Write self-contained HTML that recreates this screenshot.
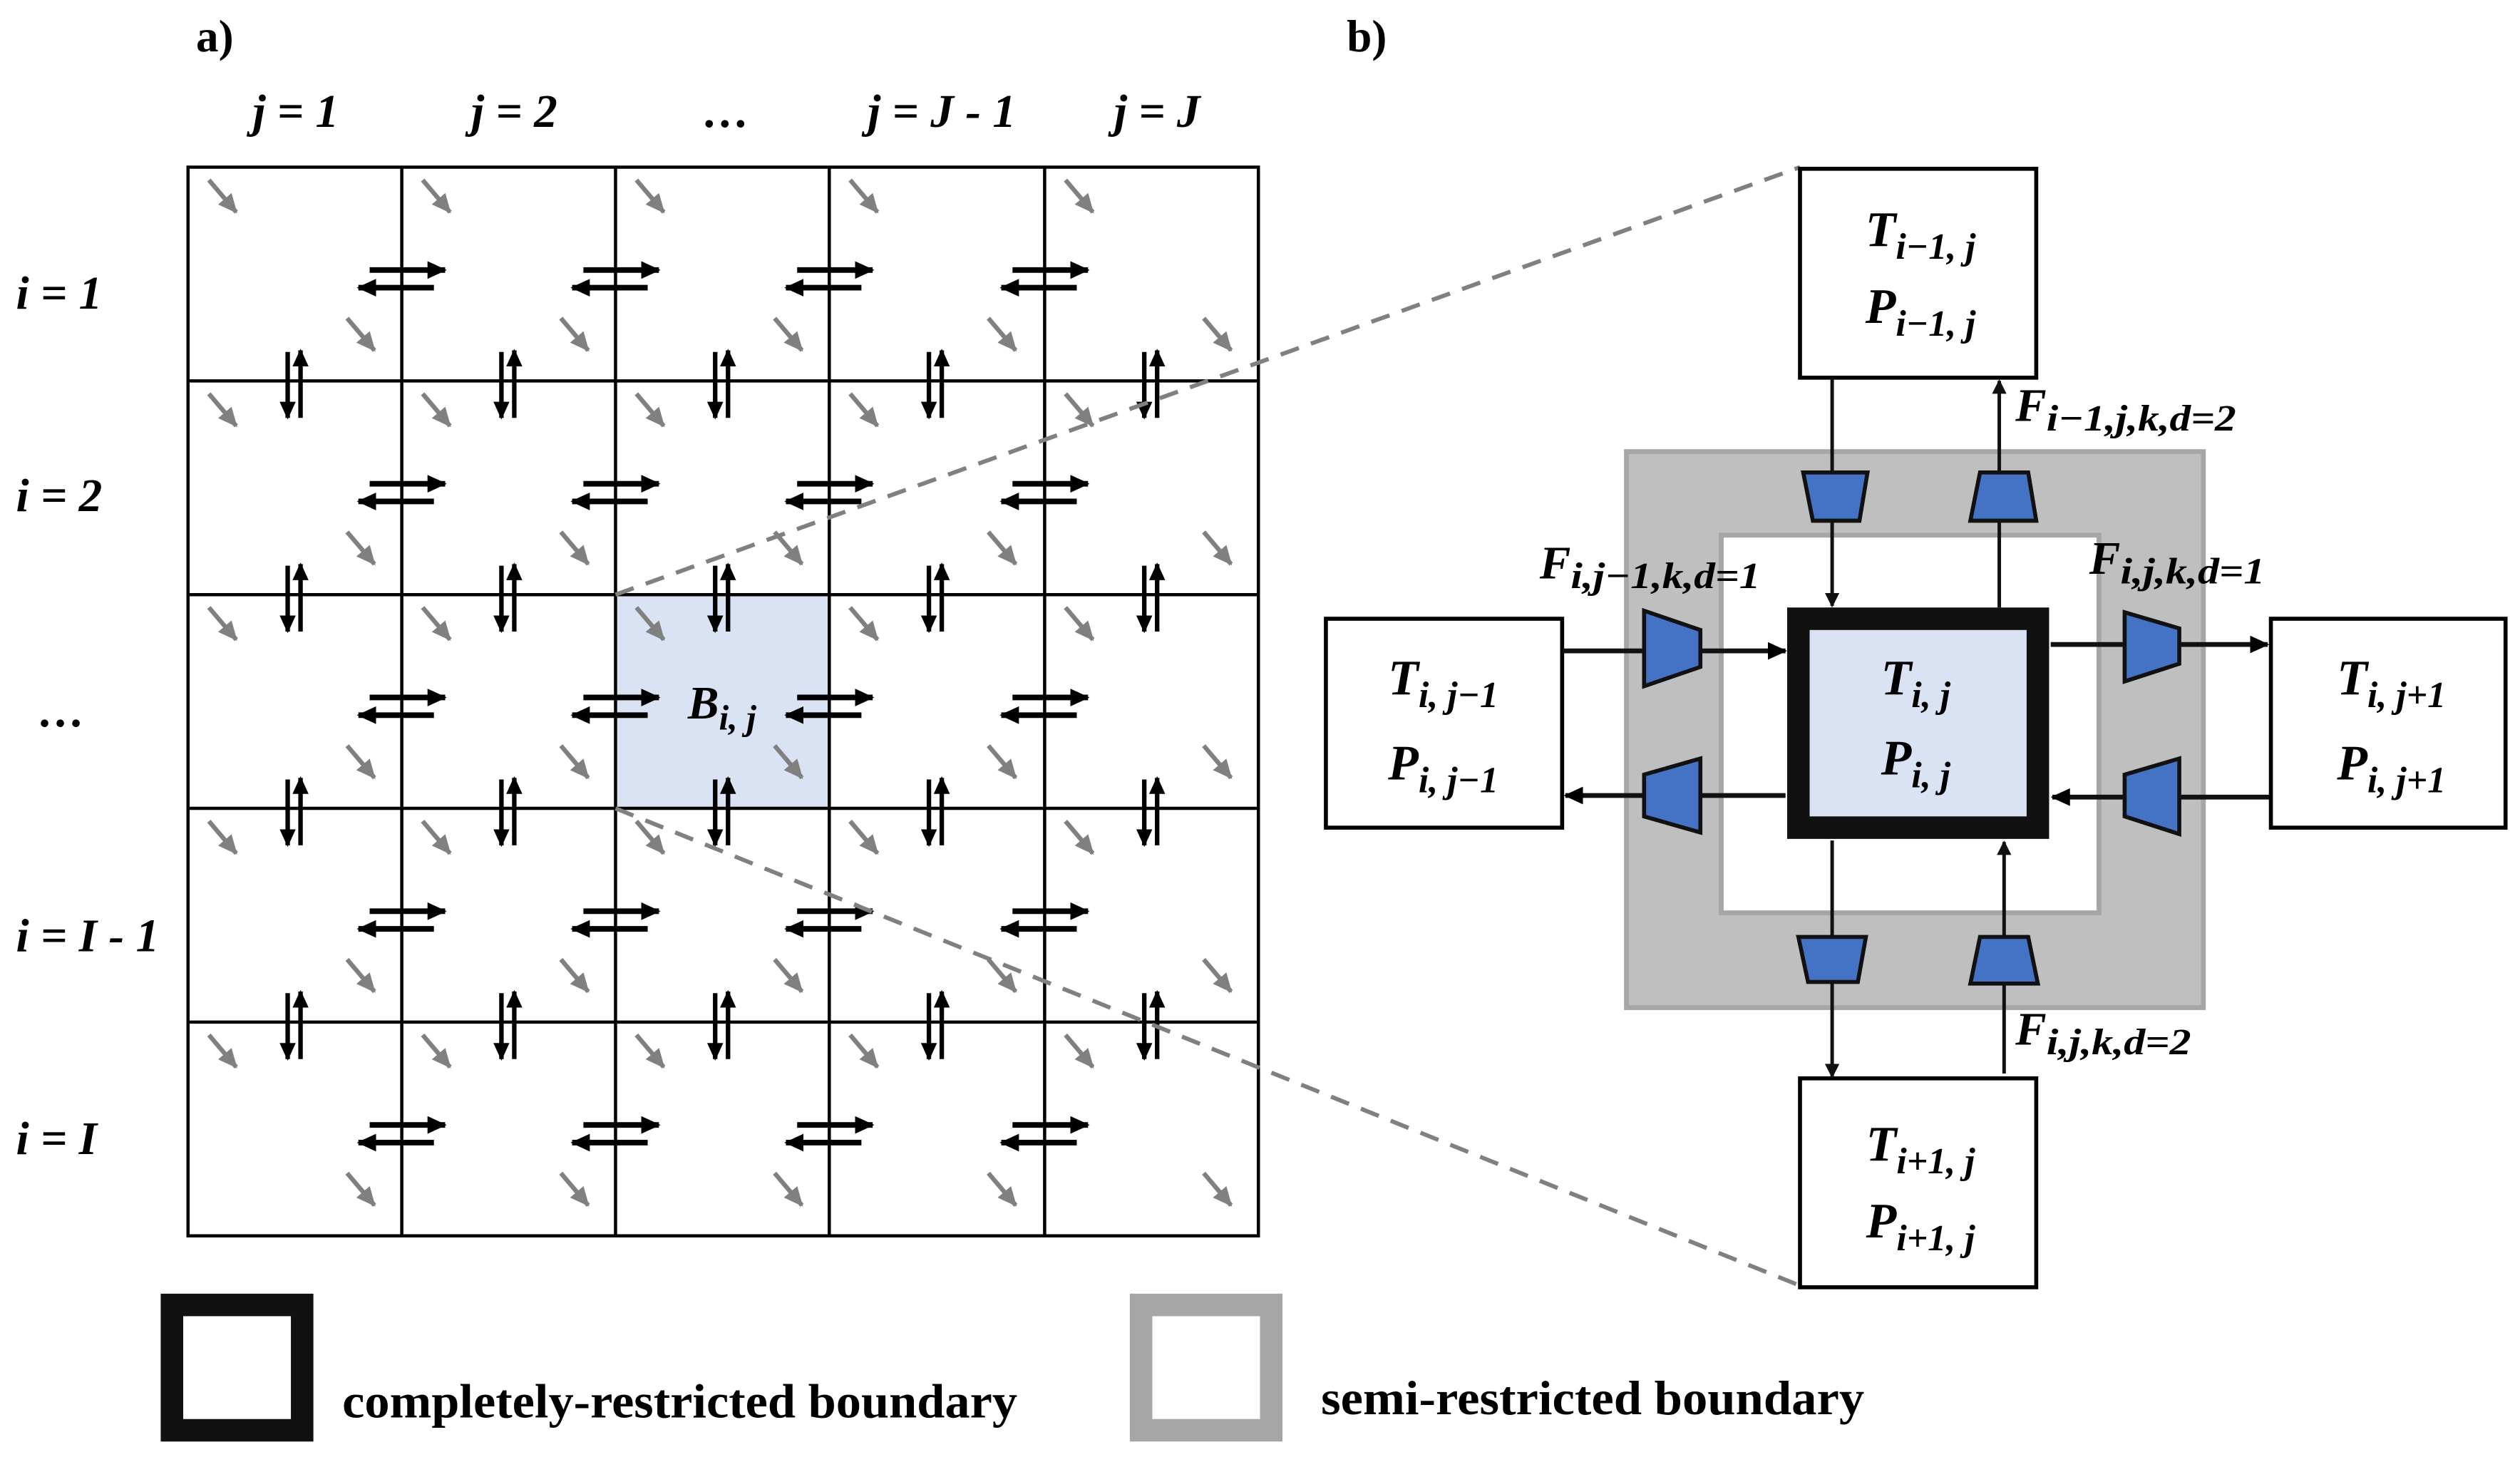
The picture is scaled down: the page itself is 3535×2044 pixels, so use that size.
<!DOCTYPE html>
<html><head><meta charset="utf-8"><style>
html,body{margin:0;padding:0;background:#fff;}
svg{display:block;}
.lbl{font-family:"Liberation Serif",serif;font-weight:bold;font-style:italic;}
.m{font-family:"Liberation Serif",serif;font-weight:bold;font-style:italic;}
.t{font-family:"Liberation Serif",serif;font-weight:bold;}
</style></head><body>
<svg width="3535" height="2044" viewBox="0 0 1568 906.6" xmlns="http://www.w3.org/2000/svg">
<defs>
<marker id="ab" markerUnits="userSpaceOnUse" markerWidth="12" markerHeight="11" refX="11" refY="5.5" orient="auto"><path d="M0,0 L12,5.5 L0,11 z" fill="#000"/></marker>
<marker id="as" markerUnits="userSpaceOnUse" markerWidth="9" markerHeight="9" refX="8" refY="4.5" orient="auto"><path d="M0,0 L9,4.5 L0,9 z" fill="#111"/></marker>
<marker id="av" markerUnits="userSpaceOnUse" markerWidth="11" markerHeight="10" refX="10" refY="5" orient="auto"><path d="M0,0 L11,5 L0,10 z" fill="#000"/></marker>
<marker id="ag" markerUnits="userSpaceOnUse" markerWidth="12" markerHeight="11" refX="11" refY="5.5" orient="auto"><path d="M0,0 L12,5.5 L0,11 z" fill="#808080"/></marker>
<g id="gr">
<line x1="13" y1="8" x2="30" y2="28" stroke="#808080" stroke-width="2.8" marker-end="url(#ag)"/>
<line x1="99" y1="94" x2="116" y2="114" stroke="#808080" stroke-width="2.8" marker-end="url(#ag)"/>
</g>
<g id="hz">
<line x1="-20" y1="0" x2="27" y2="0" stroke="#000" stroke-width="3.5" marker-end="url(#ab)"/>
<line x1="20" y1="11" x2="-27" y2="11" stroke="#000" stroke-width="3.5" marker-end="url(#ab)"/>
</g>
<g id="vt">
<line x1="0" y1="-18" x2="0" y2="23" stroke="#000" stroke-width="2.8" marker-end="url(#av)"/>
<line x1="8" y1="23" x2="8" y2="-19" stroke="#000" stroke-width="2.8" marker-end="url(#av)"/>
</g>
</defs>

<text x="122" y="32" class="t" font-size="28">a)</text>
<text x="838" y="32" class="t" font-size="28">b)</text>

<g class="lbl" font-size="29" text-anchor="middle">
<text x="184" y="79">j = 1</text>
<text x="320" y="79">j = 2</text>
<text x="452" y="79">…</text>
<text x="586" y="79">j = J - 1</text>
<text x="720" y="79">j = J</text>
</g>
<g class="lbl" font-size="29">
<text x="10" y="192">i = 1</text>
<text x="10" y="318">i = 2</text>
<text x="24" y="452">…</text>
<text x="10" y="592">i = I - 1</text>
<text x="10" y="718">i = I</text>
</g>

<rect x="383" y="370" width="133" height="133" fill="#dae3f3"/>

<g stroke="#000" stroke-width="2" fill="none">
<rect x="117" y="104" width="666" height="665"/>
<line x1="250" y1="104" x2="250" y2="769"/><line x1="383" y1="104" x2="383" y2="769"/>
<line x1="516" y1="104" x2="516" y2="769"/><line x1="650" y1="104" x2="650" y2="769"/>
<line x1="117" y1="237" x2="783" y2="237"/><line x1="117" y1="370" x2="783" y2="370"/>
<line x1="117" y1="503" x2="783" y2="503"/><line x1="117" y1="636" x2="783" y2="636"/>
</g>

<g>
<use href="#gr" x="117" y="104"/><use href="#gr" x="250" y="104"/><use href="#gr" x="383" y="104"/><use href="#gr" x="516" y="104"/><use href="#gr" x="650" y="104"/>
<use href="#gr" x="117" y="237"/><use href="#gr" x="250" y="237"/><use href="#gr" x="383" y="237"/><use href="#gr" x="516" y="237"/><use href="#gr" x="650" y="237"/>
<use href="#gr" x="117" y="370"/><use href="#gr" x="250" y="370"/><use href="#gr" x="383" y="370"/><use href="#gr" x="516" y="370"/><use href="#gr" x="650" y="370"/>
<use href="#gr" x="117" y="503"/><use href="#gr" x="250" y="503"/><use href="#gr" x="383" y="503"/><use href="#gr" x="516" y="503"/><use href="#gr" x="650" y="503"/>
<use href="#gr" x="117" y="636"/><use href="#gr" x="250" y="636"/><use href="#gr" x="383" y="636"/><use href="#gr" x="516" y="636"/><use href="#gr" x="650" y="636"/>
</g>
<g>
<use href="#hz" x="250" y="168"/><use href="#hz" x="383" y="168"/><use href="#hz" x="516" y="168"/><use href="#hz" x="650" y="168"/>
<use href="#hz" x="250" y="301"/><use href="#hz" x="383" y="301"/><use href="#hz" x="516" y="301"/><use href="#hz" x="650" y="301"/>
<use href="#hz" x="250" y="434"/><use href="#hz" x="383" y="434"/><use href="#hz" x="516" y="434"/><use href="#hz" x="650" y="434"/>
<use href="#hz" x="250" y="567"/><use href="#hz" x="383" y="567"/><use href="#hz" x="516" y="567"/><use href="#hz" x="650" y="567"/>
<use href="#hz" x="250" y="700"/><use href="#hz" x="383" y="700"/><use href="#hz" x="516" y="700"/><use href="#hz" x="650" y="700"/>
</g>
<g>
<use href="#vt" x="179" y="237"/><use href="#vt" x="312" y="237"/><use href="#vt" x="445" y="237"/><use href="#vt" x="578" y="237"/><use href="#vt" x="712" y="237"/>
<use href="#vt" x="179" y="370"/><use href="#vt" x="312" y="370"/><use href="#vt" x="445" y="370"/><use href="#vt" x="578" y="370"/><use href="#vt" x="712" y="370"/>
<use href="#vt" x="179" y="503"/><use href="#vt" x="312" y="503"/><use href="#vt" x="445" y="503"/><use href="#vt" x="578" y="503"/><use href="#vt" x="712" y="503"/>
<use href="#vt" x="179" y="636"/><use href="#vt" x="312" y="636"/><use href="#vt" x="445" y="636"/><use href="#vt" x="578" y="636"/><use href="#vt" x="712" y="636"/>
</g>
<text x="428" y="447" class="m" font-size="29">B<tspan font-size="22" dy="7">i, j</tspan></text>

<g stroke="#808080" stroke-width="2.6" stroke-dasharray="12,8" fill="none">
<line x1="383" y1="370" x2="1120" y2="104"/>
<line x1="383" y1="503" x2="1120" y2="800"/>
</g>

<rect x="1012" y="281" width="359" height="346" fill="#bfbfbf" stroke="#a6a6a6" stroke-width="3"/>
<rect x="1071" y="333" width="235" height="235" fill="#fff" stroke="#a6a6a6" stroke-width="3"/>

<g fill="#fff" stroke="#000" stroke-width="2.5">
<rect x="1120" y="105" width="147" height="130"/>
<rect x="825" y="385" width="147" height="130"/>
<rect x="1413" y="385" width="146" height="130"/>
<rect x="1120" y="671" width="147" height="130"/>
</g>
<rect x="1119" y="385" width="149" height="130" fill="#dae3f3" stroke="#111" stroke-width="14"/>

<g stroke="#111" stroke-width="2.2" fill="none">
<line x1="1140" y1="235" x2="1140" y2="377" marker-end="url(#as)"/>
<line x1="1244" y1="378" x2="1244" y2="237" marker-end="url(#as)"/>
<line x1="1140" y1="523" x2="1140" y2="670" marker-end="url(#as)"/>
<line x1="1247" y1="668" x2="1247" y2="524" marker-end="url(#as)"/>
</g>
<g stroke="#111" stroke-width="3" fill="none">
<line x1="972" y1="405" x2="1111" y2="405" marker-end="url(#ab)"/>
<line x1="1111" y1="495" x2="974" y2="495" marker-end="url(#ab)"/>
<line x1="1276" y1="401" x2="1411" y2="401" marker-end="url(#ab)"/>
<line x1="1412" y1="496" x2="1277" y2="496" marker-end="url(#ab)"/>
</g>
<g fill="#4472c4" stroke="#111" stroke-width="2.5" stroke-linejoin="miter">
<polygon points="1122,294 1162,294 1157,324 1128,324"/>
<polygon points="1232,294 1262,294 1267,324 1226,324"/>
<polygon points="1119,583 1161,583 1156,611 1125,611"/>
<polygon points="1232,583 1262,583 1268,612 1226,612"/>
<polygon points="1023,380 1058,392 1058,415 1023,427"/>
<polygon points="1023,482 1058,472 1058,518 1023,508"/>
<polygon points="1322,381 1356,391 1356,413 1322,424"/>
<polygon points="1322,482 1356,472 1356,519 1322,508"/>
</g>

<g class="m" text-anchor="middle">
<text x="1195" y="153" font-size="31">T<tspan font-size="23" dy="8">i−1, j</tspan></text>
<text x="1195" y="201" font-size="31">P<tspan font-size="23" dy="8">i−1, j</tspan></text>
<text x="898" y="432" font-size="31">T<tspan font-size="23" dy="8">i, j−1</tspan></text>
<text x="898" y="485" font-size="31">P<tspan font-size="23" dy="8">i, j−1</tspan></text>
<text x="1192" y="432" font-size="31">T<tspan font-size="23" dy="8">i, j</tspan></text>
<text x="1192" y="482" font-size="31">P<tspan font-size="23" dy="8">i, j</tspan></text>
<text x="1488" y="432" font-size="31">T<tspan font-size="23" dy="8">i, j+1</tspan></text>
<text x="1488" y="485" font-size="31">P<tspan font-size="23" dy="8">i, j+1</tspan></text>
<text x="1195" y="722" font-size="31">T<tspan font-size="23" dy="8">i+1, j</tspan></text>
<text x="1195" y="770" font-size="31">P<tspan font-size="23" dy="8">i+1, j</tspan></text>
</g>
<g class="m">
<text x="1254" y="262" font-size="29">F<tspan font-size="23" dy="6" textLength="118" lengthAdjust="spacingAndGlyphs">i−1,j,k,d=2</tspan></text>
<text x="958" y="360" font-size="29">F<tspan font-size="23" dy="6" textLength="118" lengthAdjust="spacingAndGlyphs">i,j−1,k,d=1</tspan></text>
<text x="1300" y="357" font-size="29">F<tspan font-size="23" dy="6" textLength="90" lengthAdjust="spacingAndGlyphs">i,j,k,d=1</tspan></text>
<text x="1254" y="650" font-size="29">F<tspan font-size="23" dy="6" textLength="90" lengthAdjust="spacingAndGlyphs">i,j,k,d=2</tspan></text>
</g>

<rect x="107" y="812" width="81" height="78" fill="#fff" stroke="#111" stroke-width="14"/>
<text x="213" y="882" class="t" font-size="30" textLength="420" lengthAdjust="spacingAndGlyphs">completely-restricted boundary</text>
<rect x="710" y="812" width="81" height="78" fill="#fff" stroke="#a6a6a6" stroke-width="14"/>
<text x="822" y="880" class="t" font-size="30" textLength="338" lengthAdjust="spacingAndGlyphs">semi-restricted boundary</text>
</svg>
</body></html>
